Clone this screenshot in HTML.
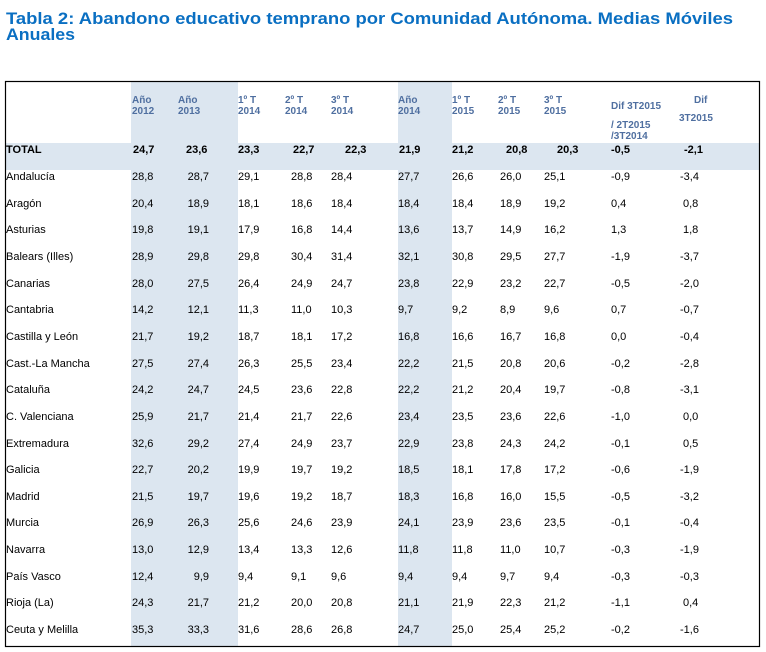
<!DOCTYPE html>
<html><head><meta charset="utf-8"><style>
body{margin:0;width:766px;height:652px;background:#fff;position:relative;overflow:hidden;font-family:"Liberation Sans",Arial,sans-serif;}
.a{position:absolute;white-space:nowrap;font-size:11px;line-height:14px;color:#000;}
.h{position:absolute;font-size:10px;line-height:11px;font-weight:bold;color:#4f6fa0;}
.b{font-weight:bold;}
</style></head><body>
<svg width="766" height="652" style="position:absolute;left:0;top:0">
<text x="6" y="24" font-family="Liberation Sans, Arial, sans-serif" font-weight="bold" font-size="17" fill="#0a6fc2" textLength="727" lengthAdjust="spacingAndGlyphs">Tabla 2: Abandono educativo temprano por Comunidad Autónoma. Medias Móviles</text>
<text x="6" y="40" font-family="Liberation Sans, Arial, sans-serif" font-weight="bold" font-size="17" fill="#0a6fc2" textLength="69" lengthAdjust="spacingAndGlyphs">Anuales</text>
<rect x="131" y="82" width="107" height="565" fill="#dce6f0"/>
<rect x="398" y="82" width="54" height="565" fill="#dce6f0"/>
<rect x="6" y="143" width="754" height="27" fill="#dce6f0"/>
<rect x="5.5" y="81.5" width="754" height="565" fill="none" stroke="#000" stroke-width="1.2"/>
</svg>
<div class="h" style="left:132px;top:95px">Año<br>2012</div>
<div class="h" style="left:178px;top:95px">Año<br>2013</div>
<div class="h" style="left:238px;top:95px">1º T<br>2014</div>
<div class="h" style="left:285px;top:95px">2º T<br>2014</div>
<div class="h" style="left:331px;top:95px">3º T<br>2014</div>
<div class="h" style="left:398px;top:95px">Año<br>2014</div>
<div class="h" style="left:452px;top:95px">1º T<br>2015</div>
<div class="h" style="left:498px;top:95px">2º T<br>2015</div>
<div class="h" style="left:544px;top:95px">3º T<br>2015</div>
<div class="h" style="left:611px;top:101px">Dif 3T2015</div>
<div class="h" style="left:611px;top:120px">/ 2T2015<br>/3T2014</div>
<div class="h" style="left:694px;top:95px">Dif</div>
<div class="h" style="left:679px;top:113px">3T2015</div>
<div id="rows"></div>
<div class="a b" style="left:6px;top:143px">TOTAL</div>
<div class="a b" style="left:133px;top:143px">24,7</div>
<div class="a b" style="left:186px;top:143px">23,6</div>
<div class="a b" style="left:238px;top:143px">23,3</div>
<div class="a b" style="left:293px;top:143px">22,7</div>
<div class="a b" style="left:345px;top:143px">22,3</div>
<div class="a b" style="left:399px;top:143px">21,9</div>
<div class="a b" style="left:452px;top:143px">21,2</div>
<div class="a b" style="left:506px;top:143px">20,8</div>
<div class="a b" style="left:557px;top:143px">20,3</div>
<div class="a b" style="left:611px;top:143px">-0,5</div>
<div class="a b" style="left:684px;top:143px">-2,1</div>
<script>
var d=[
["Andalucía","28,8","28,7","29,1","28,8","28,4","27,7","26,6","26,0","25,1","-0,9","-3,4"],
["Aragón","20,4","18,9","18,1","18,6","18,4","18,4","18,4","18,9","19,2","0,4","0,8"],
["Asturias","19,8","19,1","17,9","16,8","14,4","13,6","13,7","14,9","16,2","1,3","1,8"],
["Balears (Illes)","28,9","29,8","29,8","30,4","31,4","32,1","30,8","29,5","27,7","-1,9","-3,7"],
["Canarias","28,0","27,5","26,4","24,9","24,7","23,8","22,9","23,2","22,7","-0,5","-2,0"],
["Cantabria","14,2","12,1","11,3","11,0","10,3","9,7","9,2","8,9","9,6","0,7","-0,7"],
["Castilla y León","21,7","19,2","18,7","18,1","17,2","16,8","16,6","16,7","16,8","0,0","-0,4"],
["Cast.-La Mancha","27,5","27,4","26,3","25,5","23,4","22,2","21,5","20,8","20,6","-0,2","-2,8"],
["Cataluña","24,2","24,7","24,5","23,6","22,8","22,2","21,2","20,4","19,7","-0,8","-3,1"],
["C. Valenciana","25,9","21,7","21,4","21,7","22,6","23,4","23,5","23,6","22,6","-1,0","0,0"],
["Extremadura","32,6","29,2","27,4","24,9","23,7","22,9","23,8","24,3","24,2","-0,1","0,5"],
["Galicia","22,7","20,2","19,9","19,7","19,2","18,5","18,1","17,8","17,2","-0,6","-1,9"],
["Madrid","21,5","19,7","19,6","19,2","18,7","18,3","16,8","16,0","15,5","-0,5","-3,2"],
["Murcia","26,9","26,3","25,6","24,6","23,9","24,1","23,9","23,6","23,5","-0,1","-0,4"],
["Navarra","13,0","12,9","13,4","13,3","12,6","11,8","11,8","11,0","10,7","-0,3","-1,9"],
["País Vasco","12,4","9,9","9,4","9,1","9,6","9,4","9,4","9,7","9,4","-0,3","-0,3"],
["Rioja (La)","24,3","21,7","21,2","20,0","20,8","21,1","21,9","22,3","21,2","-1,1","0,4"],
["Ceuta y Melilla","35,3","33,3","31,6","28,6","26,8","24,7","25,0","25,4","25,2","-0,2","-1,6"]];
var xs=[6,132,null,238,291,331,398,452,500,544,611,680];
var h="";
d.forEach(function(r,i){var t=Math.round(177+i*26.65-7);
r.forEach(function(v,j){
if(j==2){h+='<div class="a" style="right:'+(766-209)+'px;top:'+t+'px">'+v+'</div>';}
else{var x=xs[j];if(j==11&&v[0]!="-")x=683;h+='<div class="a" style="left:'+x+'px;top:'+t+'px">'+v+'</div>';}
});});
document.getElementById("rows").innerHTML=h;
</script>
</body></html>
